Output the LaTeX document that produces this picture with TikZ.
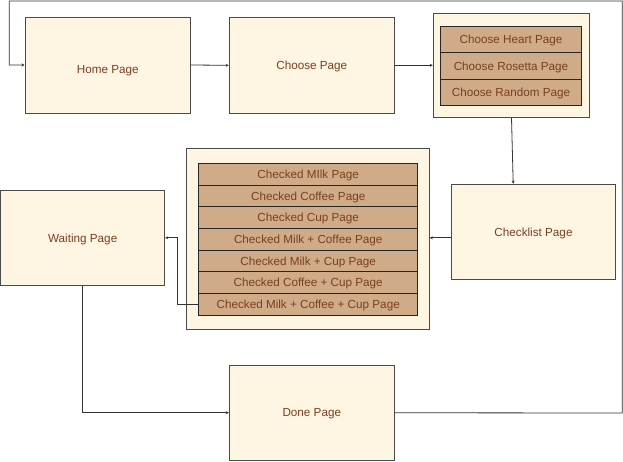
\documentclass[tikz,border=0pt]{standalone}
\usepackage{fontspec}
\setmainfont{Liberation Sans}
\usetikzlibrary{arrows.meta,calc}
\definecolor{cream}{HTML}{FFF5E3}
\definecolor{tan}{HTML}{D0AB88}
\definecolor{brd}{HTML}{4A4A4A}
\definecolor{txt}{HTML}{7A4020}
\definecolor{wire}{HTML}{333333}
\tikzset{
  pagebox/.style={draw=brd,line width=1pt,fill=cream,rectangle,inner sep=0pt,
    font=\fontsize{11.7}{14}\selectfont,text=txt,text height=8.4pt,text depth=0pt},
  groupbox/.style={draw=brd,line width=1pt,fill=cream,rectangle,inner sep=0pt},
  rowbox/.style={draw=black!85,line width=0.8pt,fill=tan,rectangle,inner sep=0pt,
    font=\fontsize{11.7}{14}\selectfont,text=txt,text height=8.4pt,text depth=0pt},
  conn/.style={draw=wire,line width=0.8pt,-{Stealth[length=3pt,width=3pt]}}
}
\begin{document}
\begin{tikzpicture}[x=1pt,y=-1pt]
\useasboundingbox (0,0) rectangle (623,461);
% main pages
\node[pagebox,minimum width=165.5,minimum height=96] (home) at (107.75,65) {\raisebox{-4pt}{Home Page}};
\node[pagebox,minimum width=165,minimum height=96] (choose) at (311.8,65.3) {Choose Page};
\node[pagebox,minimum width=164.4,minimum height=95] (checklist) at (533.5,231.8) {Checklist Page};
\node[pagebox,minimum width=164,minimum height=95] (waiting) at (82.7,237.8) {Waiting Page};
\node[pagebox,minimum width=165,minimum height=94.5] (done) at (311.8,412.75) {Done Page};
% choose group
\node[groupbox,minimum width=156.4,minimum height=104] (cgrp) at (511.5,65.3) {};
\foreach \t [count=\i] in {Choose Heart Page,Choose Rosetta Page,Choose Random Page}{
  \node[rowbox,minimum width=141.4,minimum height=26.33] (c\i) at (511,{26.3+13.17+(\i-1)*26.33}) {\t};
}
% checked group
\node[groupbox,minimum width=243,minimum height=181] (kgrp) at (307.8,238.8) {};
\foreach \t [count=\i] in {Checked MIlk Page,Checked Coffee Page,Checked Cup Page,Checked Milk + Coffee Page,Checked Milk + Cup Page,Checked Coffee + Cup Page,Checked Milk + Coffee + Cup Page}{
  \node[rowbox,minimum width=219,minimum height=21.67] (k\i) at (308.2,{163.3+10.83+(\i-1)*21.67}) {\t};
}
% connectors
\coordinate (toR) at (622.3,413);
\coordinate (topR) at (622.3,1);
\coordinate (topL) at (9.3,1);
\draw[conn] (home.east) -- (choose.west);
\draw[conn] (choose.east) -- (cgrp.west);
\draw[conn] (cgrp.south) -- ($(checklist.north west)+(62.4,0)$);
\draw[conn] (checklist.west |- waiting.east) -- (kgrp.east |- waiting.east);
\draw[conn] (k7.west) -- ++(-21.4,0) |- (waiting.east);
\draw[conn] (waiting.south) |- (done.west);
\draw[conn] (done.east) -- (toR) -- (topR) -- (topL) |- (home.west);
\end{tikzpicture}
\end{document}
